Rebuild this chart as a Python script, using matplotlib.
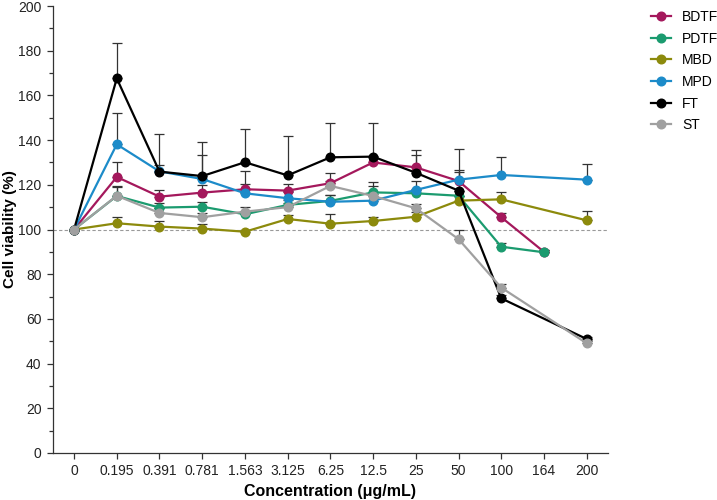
import matplotlib

matplotlib.use("Agg")
import matplotlib.pyplot as plt
import numpy as np
from matplotlib.ticker import MultipleLocator

plt.rcParams["font.family"] = ["Liberation Sans", "DejaVu Sans"]

concentrations = ["0", "0.195", "0.391", "0.781", "1.563", "3.125", "6.25",
                  "12.5", "25", "50", "100", "164", "200"]

# None = not measured at that concentration
bdtf = [100, 123.5, 114.7, 116.5, 118.0, 117.4, 120.7, 130.0, 127.8, 121.7, 105.5, 90.0, None]
bdtf_err = [0, 6.8, 3.0, 3.3, 8.0, 3.0, 4.7, 3.0, 5.5, 4.0, 2.0, 1.0, None]
pdtf = [100, 115.0, 109.8, 110.2, 106.8, 111.0, 112.8, 116.6, 116.2, 115.1, 92.3, 89.8, None]
pdtf_err = [0, 4.0, 2.0, 2.0, 1.5, 2.0, 2.5, 3.0, 2.0, 2.0, 1.5, 1.0, None]
mbd = [100, 102.8, 101.3, 100.4, 99.0, 104.7, 102.6, 103.8, 105.7, 112.9, 113.5, None, 104.1]
mbd_err = [0, 2.7, 2.6, 2.0, 1.0, 2.0, 4.2, 2.0, 2.0, 2.0, 3.1, None, 4.3]
mpd = [100, 138.1, 126.0, 122.6, 116.2, 114.0, 112.4, 112.9, 117.7, 122.3, 124.4, None, 122.3]
mpd_err = [0, 13.9, 3.0, 10.6, 4.0, 3.0, 3.0, 3.0, 4.0, 4.3, 7.9, None, 6.9]
ft = [100, 167.6, 125.9, 123.9, 130.1, 124.2, 132.3, 132.6, 125.4, 117.4, 69.2, None, 51.0]
ft_err = [0, 15.7, 16.8, 15.4, 15.0, 17.8, 15.2, 15.2, 10.2, 18.6, 1.5, None, 1.0]
st = [100, 115.1, 107.4, 105.5, 108.0, 110.0, 119.5, 115.0, 109.5, 95.7, 74.0, None, 49.1]
st_err = [0, 4.4, 2.0, 2.0, 2.0, 2.0, 2.0, 6.4, 1.9, 4.1, 1.5, None, 1.0]

series = [
    ("BDTF", bdtf, bdtf_err, "#A4185C"),
    ("PDTF", pdtf, pdtf_err, "#1B9B6F"),
    ("MBD", mbd, mbd_err, "#8C8A0C"),
    ("MPD", mpd, mpd_err, "#1C8BC9"),
    ("FT", ft, ft_err, "#000000"),
    ("ST", st, st_err, "#A0A0A0"),
]

fig = plt.figure(figsize=(7.17, 5.0), dpi=100)
ax = fig.add_axes([0.0735, 0.094, 0.7745, 0.894])

xs = np.arange(len(concentrations))
ax.axhline(100, color="#9A9A9A", lw=0.8, ls=(0, (3, 2)), zorder=1)

for i, (name, vals, errs, col) in enumerate(series):
    idx = [k for k, v in enumerate(vals) if v is not None]
    x = xs[idx]
    y = np.array([vals[k] for k in idx], dtype=float)
    e = np.array([errs[k] for k in idx], dtype=float)
    ax.errorbar(x, y, yerr=[np.zeros_like(e), e], fmt="none", ecolor="#333333",
                elinewidth=0.9, capsize=3.5, capthick=0.9, zorder=2 + i * 0.1)
    ax.plot(x, y, color=col, lw=1.6, marker="o", ms=6.2, label=name,
            zorder=3 + i * 0.1)

ax.set_xlim(-0.5, 12.5)
ax.set_ylim(0, 200)
ax.set_xticks(xs)
ax.set_xticklabels(concentrations)
ax.yaxis.set_major_locator(MultipleLocator(20))
ax.yaxis.set_minor_locator(MultipleLocator(10))
ax.tick_params(axis="both", which="major", labelsize=10, length=4.5, width=0.9,
               color="#333333", labelcolor="#222222")
ax.tick_params(axis="y", which="minor", length=2.8, width=0.9, color="#333333")
for side in ["top", "right"]:
    ax.spines[side].set_visible(False)
for side in ["left", "bottom"]:
    ax.spines[side].set_linewidth(0.9)
    ax.spines[side].set_color("#333333")

ax.set_xlabel("Concentration (\u03bcg/mL)", fontsize=11.5, fontweight="bold", labelpad=4)
ax.set_ylabel("Cell viability (%)", fontsize=11, fontweight="bold", labelpad=1)

fig.legend(*ax.get_legend_handles_labels(), loc="upper left",
           bbox_to_anchor=(651 / 717, 0.98), frameon=False, fontsize=10,
           handlelength=1.45, labelspacing=0.55, handletextpad=0.8,
           borderaxespad=0, borderpad=0)

fig.savefig("out.png", dpi=100)
